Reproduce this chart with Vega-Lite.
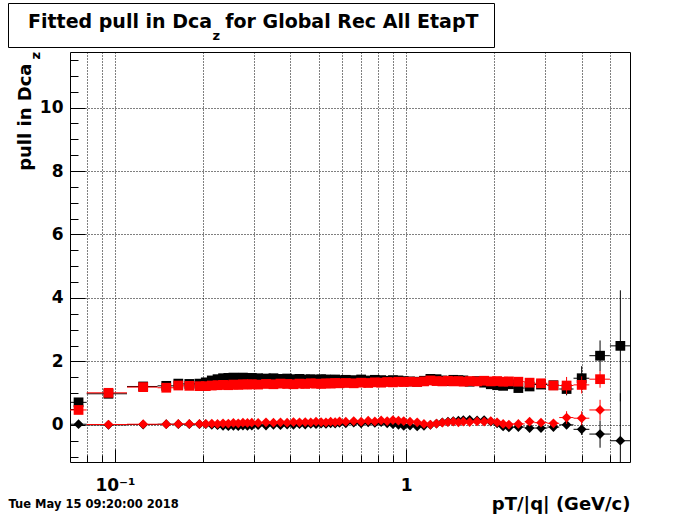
{
"$schema":"https://vega.github.io/schema/vega-lite/v6.json",
"width":560,"height":410,
"autosize":{"type":"none"},
"padding":{"left":70,"top":52,"right":70,"bottom":52},
"background":"white",
"config":{
"view":{"stroke":"black","strokeWidth":1},
"font":"DejaVu Sans",
"axis":{"labelFont":"DejaVu Sans","labelFontWeight":"bold","labelFontSize":17,"labelColor":"black","titleFont":"DejaVu Sans","titleFontWeight":"bold","titleColor":"black","tickColor":"black","tickWidth":1,"gridColor":"black","gridDash":[1,2],"gridOpacity":1,"gridWidth":1,"domain":false}
},
"resolve":{"axis":{"x":"independent","y":"independent"}},
"datasets":{"d":[
{"s":"bs","x":0.075,"x0":0.07,"x1":0.08,"y":0.71},
{"s":"bs","x":0.095,"x0":0.08,"x1":0.11,"y":0.98},
{"s":"bs","x":0.125,"x0":0.11,"x1":0.14,"y":1.21},
{"s":"bs","x":0.15,"x0":0.14,"x1":0.16,"y":1.23},
{"s":"bs","x":0.165,"x0":0.16,"x1":0.17,"y":1.30},
{"s":"bs","x":0.18,"x0":0.17,"x1":0.19,"y":1.29},
{"s":"bs","x":0.195,"x0":0.19,"x1":0.20,"y":1.30},
{"s":"bs","x":0.205,"x0":0.20,"x1":0.21,"y":1.34},
{"s":"bs","x":0.215,"x0":0.21,"x1":0.22,"y":1.40},
{"s":"bs","x":0.225,"x0":0.22,"x1":0.23,"y":1.44},
{"s":"bs","x":0.235,"x0":0.23,"x1":0.24,"y":1.47},
{"s":"bs","x":0.245,"x0":0.24,"x1":0.25,"y":1.48},
{"s":"bs","x":0.255,"x0":0.25,"x1":0.26,"y":1.49},
{"s":"bs","x":0.265,"x0":0.26,"x1":0.27,"y":1.48},
{"s":"bs","x":0.275,"x0":0.27,"x1":0.28,"y":1.49},
{"s":"bs","x":0.285,"x0":0.28,"x1":0.29,"y":1.47},
{"s":"bs","x":0.295,"x0":0.29,"x1":0.30,"y":1.48},
{"s":"bs","x":0.31,"x0":0.30,"x1":0.32,"y":1.47},
{"s":"bs","x":0.33,"x0":0.32,"x1":0.34,"y":1.46},
{"s":"bs","x":0.35,"x0":0.34,"x1":0.36,"y":1.47},
{"s":"bs","x":0.37,"x0":0.36,"x1":0.38,"y":1.45},
{"s":"bs","x":0.39,"x0":0.38,"x1":0.40,"y":1.46},
{"s":"bs","x":0.41,"x0":0.40,"x1":0.42,"y":1.44},
{"s":"bs","x":0.43,"x0":0.42,"x1":0.44,"y":1.45},
{"s":"bs","x":0.45,"x0":0.44,"x1":0.46,"y":1.43},
{"s":"bs","x":0.47,"x0":0.46,"x1":0.48,"y":1.44},
{"s":"bs","x":0.49,"x0":0.48,"x1":0.50,"y":1.42},
{"s":"bs","x":0.51,"x0":0.50,"x1":0.52,"y":1.44},
{"s":"bs","x":0.53,"x0":0.52,"x1":0.54,"y":1.43},
{"s":"bs","x":0.55,"x0":0.54,"x1":0.56,"y":1.42},
{"s":"bs","x":0.57,"x0":0.56,"x1":0.58,"y":1.43},
{"s":"bs","x":0.59,"x0":0.58,"x1":0.60,"y":1.41},
{"s":"bs","x":0.62,"x0":0.60,"x1":0.64,"y":1.42},
{"s":"bs","x":0.66,"x0":0.64,"x1":0.68,"y":1.41},
{"s":"bs","x":0.70,"x0":0.68,"x1":0.72,"y":1.43},
{"s":"bs","x":0.74,"x0":0.72,"x1":0.76,"y":1.40},
{"s":"bs","x":0.78,"x0":0.76,"x1":0.80,"y":1.42},
{"s":"bs","x":0.82,"x0":0.80,"x1":0.84,"y":1.41},
{"s":"bs","x":0.86,"x0":0.84,"x1":0.88,"y":1.39},
{"s":"bs","x":0.90,"x0":0.88,"x1":0.92,"y":1.41},
{"s":"bs","x":0.94,"x0":0.92,"x1":0.96,"y":1.40},
{"s":"bs","x":0.98,"x0":0.96,"x1":1.00,"y":1.38},
{"s":"bs","x":1.03,"x0":1.00,"x1":1.06,"y":1.37},
{"s":"bs","x":1.09,"x0":1.06,"x1":1.12,"y":1.36},
{"s":"bs","x":1.15,"x0":1.12,"x1":1.18,"y":1.39},
{"s":"bs","x":1.21,"x0":1.18,"x1":1.24,"y":1.45},
{"s":"bs","x":1.27,"x0":1.24,"x1":1.30,"y":1.44},
{"s":"bs","x":1.33,"x0":1.30,"x1":1.36,"y":1.40},
{"s":"bs","x":1.39,"x0":1.36,"x1":1.42,"y":1.38},
{"s":"bs","x":1.45,"x0":1.42,"x1":1.48,"y":1.42},
{"s":"bs","x":1.51,"x0":1.48,"x1":1.54,"y":1.41},
{"s":"bs","x":1.57,"x0":1.54,"x1":1.60,"y":1.40},
{"s":"bs","x":1.65,"x0":1.6,"x1":1.7,"y":1.36},
{"s":"bs","x":1.75,"x0":1.7,"x1":1.8,"y":1.38},
{"s":"bs","x":1.85,"x0":1.8,"x1":1.9,"y":1.33},
{"s":"bs","x":1.95,"x0":1.9,"x1":2.0,"y":1.28},
{"s":"bs","x":2.05,"x0":2.0,"x1":2.1,"y":1.25},
{"s":"bs","x":2.15,"x0":2.1,"x1":2.2,"y":1.23},
{"s":"bs","x":2.25,"x0":2.2,"x1":2.3,"y":1.28},
{"s":"bs","x":2.425,"x0":2.3,"x1":2.55,"y":1.16,"y0":1.12,"y1":1.20},
{"s":"bs","x":2.65,"x0":2.55,"x1":2.75,"y":1.21,"y0":1.16,"y1":1.26},
{"s":"bs","x":2.9,"x0":2.75,"x1":3.05,"y":1.27,"y0":1.20,"y1":1.34},
{"s":"bs","x":3.2,"x0":3.05,"x1":3.35,"y":1.25,"y0":1.15,"y1":1.35},
{"s":"bs","x":3.55,"x0":3.35,"x1":3.75,"y":1.13,"y0":0.93,"y1":1.33},
{"s":"bs","x":4.0,"x0":3.75,"x1":4.25,"y":1.47,"y0":1.09,"y1":1.85},
{"s":"bs","x":4.625,"x0":4.25,"x1":5.0,"y":2.18,"y0":1.70,"y1":2.66},
{"s":"bs","x":5.43,"x0":5.0,"x1":5.86,"y":2.49,"y0":0.74,"y1":4.24},
{"s":"bd","x":0.075,"x0":0.07,"x1":0.08,"y":0.02},
{"s":"bd","x":0.095,"x0":0.08,"x1":0.11,"y":0.00},
{"s":"bd","x":0.125,"x0":0.11,"x1":0.14,"y":0.01},
{"s":"bd","x":0.15,"x0":0.14,"x1":0.16,"y":0.02},
{"s":"bd","x":0.165,"x0":0.16,"x1":0.17,"y":0.02},
{"s":"bd","x":0.18,"x0":0.17,"x1":0.19,"y":0.02},
{"s":"bd","x":0.195,"x0":0.19,"x1":0.20,"y":0.02},
{"s":"bd","x":0.205,"x0":0.20,"x1":0.21,"y":0.02},
{"s":"bd","x":0.215,"x0":0.21,"x1":0.22,"y":0.00},
{"s":"bd","x":0.225,"x0":0.22,"x1":0.23,"y":-0.01},
{"s":"bd","x":0.235,"x0":0.23,"x1":0.24,"y":-0.03},
{"s":"bd","x":0.245,"x0":0.24,"x1":0.25,"y":-0.04},
{"s":"bd","x":0.255,"x0":0.25,"x1":0.26,"y":-0.03},
{"s":"bd","x":0.265,"x0":0.26,"x1":0.27,"y":-0.04},
{"s":"bd","x":0.275,"x0":0.27,"x1":0.28,"y":-0.02},
{"s":"bd","x":0.285,"x0":0.28,"x1":0.29,"y":-0.03},
{"s":"bd","x":0.295,"x0":0.29,"x1":0.30,"y":-0.02},
{"s":"bd","x":0.31,"x0":0.30,"x1":0.32,"y":-0.01},
{"s":"bd","x":0.33,"x0":0.32,"x1":0.34,"y":-0.02},
{"s":"bd","x":0.35,"x0":0.34,"x1":0.36,"y":0.00},
{"s":"bd","x":0.37,"x0":0.36,"x1":0.38,"y":-0.01},
{"s":"bd","x":0.39,"x0":0.38,"x1":0.40,"y":0.01},
{"s":"bd","x":0.41,"x0":0.40,"x1":0.42,"y":0.00},
{"s":"bd","x":0.43,"x0":0.42,"x1":0.44,"y":0.02},
{"s":"bd","x":0.45,"x0":0.44,"x1":0.46,"y":0.01},
{"s":"bd","x":0.47,"x0":0.46,"x1":0.48,"y":0.03},
{"s":"bd","x":0.49,"x0":0.48,"x1":0.50,"y":0.02},
{"s":"bd","x":0.51,"x0":0.50,"x1":0.52,"y":0.04},
{"s":"bd","x":0.53,"x0":0.52,"x1":0.54,"y":0.03},
{"s":"bd","x":0.55,"x0":0.54,"x1":0.56,"y":0.05},
{"s":"bd","x":0.57,"x0":0.56,"x1":0.58,"y":0.04},
{"s":"bd","x":0.59,"x0":0.58,"x1":0.60,"y":0.06},
{"s":"bd","x":0.62,"x0":0.60,"x1":0.64,"y":0.05},
{"s":"bd","x":0.66,"x0":0.64,"x1":0.68,"y":0.07},
{"s":"bd","x":0.70,"x0":0.68,"x1":0.72,"y":0.05},
{"s":"bd","x":0.74,"x0":0.72,"x1":0.76,"y":0.08},
{"s":"bd","x":0.78,"x0":0.76,"x1":0.80,"y":0.06},
{"s":"bd","x":0.82,"x0":0.80,"x1":0.84,"y":0.09},
{"s":"bd","x":0.86,"x0":0.84,"x1":0.88,"y":0.05},
{"s":"bd","x":0.90,"x0":0.88,"x1":0.92,"y":0.02},
{"s":"bd","x":0.94,"x0":0.92,"x1":0.96,"y":0.00},
{"s":"bd","x":0.98,"x0":0.96,"x1":1.00,"y":-0.03},
{"s":"bd","x":1.03,"x0":1.00,"x1":1.06,"y":-0.02},
{"s":"bd","x":1.09,"x0":1.06,"x1":1.12,"y":-0.05},
{"s":"bd","x":1.15,"x0":1.12,"x1":1.18,"y":-0.03},
{"s":"bd","x":1.21,"x0":1.18,"x1":1.24,"y":0.00},
{"s":"bd","x":1.27,"x0":1.24,"x1":1.30,"y":0.04},
{"s":"bd","x":1.33,"x0":1.30,"x1":1.36,"y":0.08},
{"s":"bd","x":1.39,"x0":1.36,"x1":1.42,"y":0.10},
{"s":"bd","x":1.45,"x0":1.42,"x1":1.48,"y":0.12},
{"s":"bd","x":1.51,"x0":1.48,"x1":1.54,"y":0.13},
{"s":"bd","x":1.57,"x0":1.54,"x1":1.60,"y":0.15},
{"s":"bd","x":1.65,"x0":1.6,"x1":1.7,"y":0.16},
{"s":"bd","x":1.75,"x0":1.7,"x1":1.8,"y":0.14},
{"s":"bd","x":1.85,"x0":1.8,"x1":1.9,"y":0.15},
{"s":"bd","x":1.95,"x0":1.9,"x1":2.0,"y":0.10},
{"s":"bd","x":2.05,"x0":2.0,"x1":2.1,"y":0.05},
{"s":"bd","x":2.15,"x0":2.1,"x1":2.2,"y":-0.05},
{"s":"bd","x":2.25,"x0":2.2,"x1":2.3,"y":-0.08},
{"s":"bd","x":2.425,"x0":2.3,"x1":2.55,"y":-0.07,"y0":-0.11,"y1":-0.03},
{"s":"bd","x":2.65,"x0":2.55,"x1":2.75,"y":-0.10,"y0":-0.15,"y1":-0.05},
{"s":"bd","x":2.9,"x0":2.75,"x1":3.05,"y":-0.10,"y0":-0.16,"y1":-0.04},
{"s":"bd","x":3.2,"x0":3.05,"x1":3.35,"y":-0.07,"y0":-0.15,"y1":0.01},
{"s":"bd","x":3.55,"x0":3.35,"x1":3.75,"y":0.00,"y0":-0.10,"y1":0.10},
{"s":"bd","x":4.0,"x0":3.75,"x1":4.25,"y":-0.14,"y0":-0.32,"y1":0.04},
{"s":"bd","x":4.625,"x0":4.25,"x1":5.0,"y":-0.29,"y0":-0.72,"y1":0.14},
{"s":"bd","x":5.43,"x0":5.0,"x1":5.86,"y":-0.50,"y0":-2.0,"y1":1.0},
{"s":"rs","x":0.075,"x0":0.07,"x1":0.08,"y":0.47},
{"s":"rs","x":0.095,"x0":0.08,"x1":0.11,"y":1.01},
{"s":"rs","x":0.125,"x0":0.11,"x1":0.14,"y":1.19},
{"s":"rs","x":0.15,"x0":0.14,"x1":0.16,"y":1.17},
{"s":"rs","x":0.165,"x0":0.16,"x1":0.17,"y":1.24},
{"s":"rs","x":0.18,"x0":0.17,"x1":0.19,"y":1.23},
{"s":"rs","x":0.195,"x0":0.19,"x1":0.20,"y":1.22},
{"s":"rs","x":0.205,"x0":0.20,"x1":0.21,"y":1.22},
{"s":"rs","x":0.215,"x0":0.21,"x1":0.22,"y":1.24},
{"s":"rs","x":0.225,"x0":0.22,"x1":0.23,"y":1.25},
{"s":"rs","x":0.235,"x0":0.23,"x1":0.24,"y":1.26},
{"s":"rs","x":0.245,"x0":0.24,"x1":0.25,"y":1.25},
{"s":"rs","x":0.255,"x0":0.25,"x1":0.26,"y":1.27},
{"s":"rs","x":0.265,"x0":0.26,"x1":0.27,"y":1.26},
{"s":"rs","x":0.275,"x0":0.27,"x1":0.28,"y":1.28},
{"s":"rs","x":0.285,"x0":0.28,"x1":0.29,"y":1.27},
{"s":"rs","x":0.295,"x0":0.29,"x1":0.30,"y":1.28},
{"s":"rs","x":0.31,"x0":0.30,"x1":0.32,"y":1.27},
{"s":"rs","x":0.33,"x0":0.32,"x1":0.34,"y":1.29},
{"s":"rs","x":0.35,"x0":0.34,"x1":0.36,"y":1.28},
{"s":"rs","x":0.37,"x0":0.36,"x1":0.38,"y":1.30},
{"s":"rs","x":0.39,"x0":0.38,"x1":0.40,"y":1.29},
{"s":"rs","x":0.41,"x0":0.40,"x1":0.42,"y":1.28},
{"s":"rs","x":0.43,"x0":0.42,"x1":0.44,"y":1.30},
{"s":"rs","x":0.45,"x0":0.44,"x1":0.46,"y":1.29},
{"s":"rs","x":0.47,"x0":0.46,"x1":0.48,"y":1.31},
{"s":"rs","x":0.49,"x0":0.48,"x1":0.50,"y":1.30},
{"s":"rs","x":0.51,"x0":0.50,"x1":0.52,"y":1.29},
{"s":"rs","x":0.53,"x0":0.52,"x1":0.54,"y":1.31},
{"s":"rs","x":0.55,"x0":0.54,"x1":0.56,"y":1.30},
{"s":"rs","x":0.57,"x0":0.56,"x1":0.58,"y":1.32},
{"s":"rs","x":0.59,"x0":0.58,"x1":0.60,"y":1.31},
{"s":"rs","x":0.62,"x0":0.60,"x1":0.64,"y":1.32},
{"s":"rs","x":0.66,"x0":0.64,"x1":0.68,"y":1.31},
{"s":"rs","x":0.70,"x0":0.68,"x1":0.72,"y":1.33},
{"s":"rs","x":0.74,"x0":0.72,"x1":0.76,"y":1.32},
{"s":"rs","x":0.78,"x0":0.76,"x1":0.80,"y":1.34},
{"s":"rs","x":0.82,"x0":0.80,"x1":0.84,"y":1.33},
{"s":"rs","x":0.86,"x0":0.84,"x1":0.88,"y":1.35},
{"s":"rs","x":0.90,"x0":0.88,"x1":0.92,"y":1.34},
{"s":"rs","x":0.94,"x0":0.92,"x1":0.96,"y":1.36},
{"s":"rs","x":0.98,"x0":0.96,"x1":1.00,"y":1.35},
{"s":"rs","x":1.03,"x0":1.00,"x1":1.06,"y":1.36},
{"s":"rs","x":1.09,"x0":1.06,"x1":1.12,"y":1.35},
{"s":"rs","x":1.15,"x0":1.12,"x1":1.18,"y":1.37},
{"s":"rs","x":1.21,"x0":1.18,"x1":1.24,"y":1.40},
{"s":"rs","x":1.27,"x0":1.24,"x1":1.30,"y":1.38},
{"s":"rs","x":1.33,"x0":1.30,"x1":1.36,"y":1.37},
{"s":"rs","x":1.39,"x0":1.36,"x1":1.42,"y":1.39},
{"s":"rs","x":1.45,"x0":1.42,"x1":1.48,"y":1.37},
{"s":"rs","x":1.51,"x0":1.48,"x1":1.54,"y":1.38},
{"s":"rs","x":1.57,"x0":1.54,"x1":1.60,"y":1.36},
{"s":"rs","x":1.65,"x0":1.6,"x1":1.7,"y":1.38},
{"s":"rs","x":1.75,"x0":1.7,"x1":1.8,"y":1.37},
{"s":"rs","x":1.85,"x0":1.8,"x1":1.9,"y":1.39},
{"s":"rs","x":1.95,"x0":1.9,"x1":2.0,"y":1.37},
{"s":"rs","x":2.05,"x0":2.0,"x1":2.1,"y":1.38},
{"s":"rs","x":2.15,"x0":2.1,"x1":2.2,"y":1.36},
{"s":"rs","x":2.25,"x0":2.2,"x1":2.3,"y":1.37},
{"s":"rs","x":2.425,"x0":2.3,"x1":2.55,"y":1.36,"y0":1.32,"y1":1.40},
{"s":"rs","x":2.65,"x0":2.55,"x1":2.75,"y":1.33,"y0":1.28,"y1":1.38},
{"s":"rs","x":2.9,"x0":2.75,"x1":3.05,"y":1.31,"y0":1.24,"y1":1.38},
{"s":"rs","x":3.2,"x0":3.05,"x1":3.35,"y":1.24,"y0":1.14,"y1":1.34},
{"s":"rs","x":3.55,"x0":3.35,"x1":3.75,"y":1.24,"y0":0.97,"y1":1.51},
{"s":"rs","x":4.0,"x0":3.75,"x1":4.25,"y":1.26,"y0":0.99,"y1":1.53},
{"s":"rs","x":4.625,"x0":4.25,"x1":5.0,"y":1.44,"y0":1.17,"y1":1.71},
{"s":"rd","x":0.095,"x0":0.08,"x1":0.11,"y":0.01},
{"s":"rd","x":0.125,"x0":0.11,"x1":0.14,"y":0.02},
{"s":"rd","x":0.15,"x0":0.14,"x1":0.16,"y":0.02},
{"s":"rd","x":0.165,"x0":0.16,"x1":0.17,"y":0.03},
{"s":"rd","x":0.18,"x0":0.17,"x1":0.19,"y":0.03},
{"s":"rd","x":0.195,"x0":0.19,"x1":0.20,"y":0.03},
{"s":"rd","x":0.205,"x0":0.20,"x1":0.21,"y":0.03},
{"s":"rd","x":0.215,"x0":0.21,"x1":0.22,"y":0.04},
{"s":"rd","x":0.225,"x0":0.22,"x1":0.23,"y":0.03},
{"s":"rd","x":0.235,"x0":0.23,"x1":0.24,"y":0.05},
{"s":"rd","x":0.245,"x0":0.24,"x1":0.25,"y":0.04},
{"s":"rd","x":0.255,"x0":0.25,"x1":0.26,"y":0.06},
{"s":"rd","x":0.265,"x0":0.26,"x1":0.27,"y":0.05},
{"s":"rd","x":0.275,"x0":0.27,"x1":0.28,"y":0.07},
{"s":"rd","x":0.285,"x0":0.28,"x1":0.29,"y":0.06},
{"s":"rd","x":0.295,"x0":0.29,"x1":0.30,"y":0.07},
{"s":"rd","x":0.31,"x0":0.30,"x1":0.32,"y":0.06},
{"s":"rd","x":0.33,"x0":0.32,"x1":0.34,"y":0.08},
{"s":"rd","x":0.35,"x0":0.34,"x1":0.36,"y":0.07},
{"s":"rd","x":0.37,"x0":0.36,"x1":0.38,"y":0.08},
{"s":"rd","x":0.39,"x0":0.38,"x1":0.40,"y":0.07},
{"s":"rd","x":0.41,"x0":0.40,"x1":0.42,"y":0.09},
{"s":"rd","x":0.43,"x0":0.42,"x1":0.44,"y":0.08},
{"s":"rd","x":0.45,"x0":0.44,"x1":0.46,"y":0.09},
{"s":"rd","x":0.47,"x0":0.46,"x1":0.48,"y":0.08},
{"s":"rd","x":0.49,"x0":0.48,"x1":0.50,"y":0.10},
{"s":"rd","x":0.51,"x0":0.50,"x1":0.52,"y":0.09},
{"s":"rd","x":0.53,"x0":0.52,"x1":0.54,"y":0.08},
{"s":"rd","x":0.55,"x0":0.54,"x1":0.56,"y":0.10},
{"s":"rd","x":0.57,"x0":0.56,"x1":0.58,"y":0.09},
{"s":"rd","x":0.59,"x0":0.58,"x1":0.60,"y":0.11},
{"s":"rd","x":0.62,"x0":0.60,"x1":0.64,"y":0.10},
{"s":"rd","x":0.66,"x0":0.64,"x1":0.68,"y":0.12},
{"s":"rd","x":0.70,"x0":0.68,"x1":0.72,"y":0.10},
{"s":"rd","x":0.74,"x0":0.72,"x1":0.76,"y":0.13},
{"s":"rd","x":0.78,"x0":0.76,"x1":0.80,"y":0.11},
{"s":"rd","x":0.82,"x0":0.80,"x1":0.84,"y":0.14},
{"s":"rd","x":0.86,"x0":0.84,"x1":0.88,"y":0.12},
{"s":"rd","x":0.90,"x0":0.88,"x1":0.92,"y":0.15},
{"s":"rd","x":0.94,"x0":0.92,"x1":0.96,"y":0.13},
{"s":"rd","x":0.98,"x0":0.96,"x1":1.00,"y":0.12},
{"s":"rd","x":1.03,"x0":1.00,"x1":1.06,"y":0.10},
{"s":"rd","x":1.09,"x0":1.06,"x1":1.12,"y":0.08},
{"s":"rd","x":1.15,"x0":1.12,"x1":1.18,"y":0.03},
{"s":"rd","x":1.21,"x0":1.18,"x1":1.24,"y":0.01},
{"s":"rd","x":1.27,"x0":1.24,"x1":1.30,"y":0.04},
{"s":"rd","x":1.33,"x0":1.30,"x1":1.36,"y":0.07},
{"s":"rd","x":1.39,"x0":1.36,"x1":1.42,"y":0.09},
{"s":"rd","x":1.45,"x0":1.42,"x1":1.48,"y":0.10},
{"s":"rd","x":1.51,"x0":1.48,"x1":1.54,"y":0.08},
{"s":"rd","x":1.57,"x0":1.54,"x1":1.60,"y":0.10},
{"s":"rd","x":1.65,"x0":1.6,"x1":1.7,"y":0.09},
{"s":"rd","x":1.75,"x0":1.7,"x1":1.8,"y":0.11},
{"s":"rd","x":1.85,"x0":1.8,"x1":1.9,"y":0.10},
{"s":"rd","x":1.95,"x0":1.9,"x1":2.0,"y":0.12},
{"s":"rd","x":2.05,"x0":2.0,"x1":2.1,"y":0.08},
{"s":"rd","x":2.15,"x0":2.1,"x1":2.2,"y":0.03},
{"s":"rd","x":2.25,"x0":2.2,"x1":2.3,"y":0.01},
{"s":"rd","x":2.425,"x0":2.3,"x1":2.55,"y":0.03,"y0":-0.01,"y1":0.07},
{"s":"rd","x":2.65,"x0":2.55,"x1":2.75,"y":0.10,"y0":0.05,"y1":0.15},
{"s":"rd","x":2.9,"x0":2.75,"x1":3.05,"y":0.07,"y0":0.01,"y1":0.13},
{"s":"rd","x":3.2,"x0":3.05,"x1":3.35,"y":0.05,"y0":-0.03,"y1":0.13},
{"s":"rd","x":3.55,"x0":3.35,"x1":3.75,"y":0.23,"y0":0.03,"y1":0.43},
{"s":"rd","x":4.0,"x0":3.75,"x1":4.25,"y":0.21,"y0":-0.01,"y1":0.43},
{"s":"rd","x":4.625,"x0":4.25,"x1":5.0,"y":0.47,"y0":0.15,"y1":0.79}
]},
"data":{"name":"d"},
"layer":[
{"transform":[{"filter":"datum.s[0]=='b'"}],
 "mark":{"type":"rule","color":"black","strokeWidth":1,"clip":true},
 "encoding":{
  "x":{"field":"x0","type":"quantitative","scale":{"type":"log","domain":[0.0701,5.86],"nice":false},
   "axis":{"orient":"bottom","values":[0.08,0.09,0.1,0.2,0.3,0.4,0.5,0.6,0.7,0.8,0.9,1,2,3,4,5],"grid":true,"ticks":false,"domain":false,"labelExpr":"datum.value==0.1?'10⁻¹':(datum.value==1?'1':'')","labelOverlap":false,"labelFlush":false,"labelPadding":15,"labelBaseline":"top","title":"pT/|q| (GeV/c)","titleFontSize":18,"titleX":560,"titleY":47,"titleAlign":"right","titleBaseline":"alphabetic"}},
  "x2":{"field":"x1"},
  "y":{"field":"y","type":"quantitative","scale":{"domain":[-1.17,11.75],"nice":false,"zero":false},
   "axis":{"orient":"left","values":[0,2,4,6,8,10],"grid":true,"ticks":false,"domain":false,"labelPadding":7,"title":"pull in Dca","titleFontSize":18,"titleAngle":270,"titleX":-40,"titleY":11,"titleAlign":"right","titleBaseline":"alphabetic"}}}},
{"transform":[{"filter":"datum.s[0]=='b' && isValid(datum.y0)"}],
 "mark":{"type":"rule","color":"black","strokeWidth":1,"clip":true},
 "encoding":{
  "x":{"field":"x","type":"quantitative","scale":{"type":"log","domain":[0.0701,5.86],"nice":false},
   "axis":{"orient":"bottom","values":[0.08,0.09,0.2,0.3,0.4,0.5,0.6,0.7,0.8,0.9,2,3,4,5],"grid":false,"labels":false,"ticks":true,"tickSize":-7,"domain":false,"title":null}},
  "y":{"field":"y0","type":"quantitative","scale":{"domain":[-1.17,11.75],"nice":false,"zero":false},
   "axis":{"orient":"left","values":[0,2,4,6,8,10],"grid":false,"labels":false,"ticks":true,"tickSize":-15,"domain":false,"title":"z","titleFontSize":13,"titleAngle":270,"titleX":-31,"titleY":-0.5,"titleAlign":"right","titleBaseline":"alphabetic"}},
  "y2":{"field":"y1"}}},
{"transform":[{"filter":"datum.s[0]=='b'"}],
 "mark":{"type":"point","filled":true,"opacity":1,"size":95,"color":"black","clip":true},
 "encoding":{
  "x":{"field":"x","type":"quantitative","scale":{"type":"log","domain":[0.0701,5.86],"nice":false},
   "axis":{"orient":"bottom","values":[0.1,1],"grid":false,"labels":false,"ticks":true,"tickSize":-13,"domain":false,"title":null}},
  "y":{"field":"y","type":"quantitative","scale":{"domain":[-1.17,11.75],"nice":false,"zero":false},
   "axis":{"orient":"left","values":[-1,-0.5,0.5,1,1.5,2.5,3,3.5,4.5,5,5.5,6.5,7,7.5,8.5,9,9.5,10.5,11,11.5],"grid":false,"labels":false,"ticks":true,"tickSize":-8,"domain":false,"title":null}},
  "shape":{"field":"s","type":"nominal","scale":{"domain":["bs","bd","rs","rd"],"range":["square","diamond","square","diamond"]},"legend":null}}},
{"transform":[{"filter":"datum.s[0]=='r'"}],
 "mark":{"type":"rule","color":"#ff0000","strokeWidth":1,"clip":true},
 "encoding":{
  "x":{"field":"x0","type":"quantitative","scale":{"type":"log","domain":[0.0701,5.86],"nice":false},
   "axis":{"orient":"bottom","labels":false,"ticks":false,"grid":false,"domain":false,"title":"Tue May 15 09:20:00 2018","titleFontSize":11.5,"titleX":-62,"titleY":45,"titleAlign":"left","titleBaseline":"alphabetic"}},
  "x2":{"field":"x1"},
  "y":{"field":"y","type":"quantitative","scale":{"domain":[-1.17,11.75],"nice":false,"zero":false},"axis":null}}},
{"transform":[{"filter":"datum.s[0]=='r' && isValid(datum.y0)"}],
 "mark":{"type":"rule","color":"#ff0000","strokeWidth":1,"clip":true},
 "encoding":{
  "x":{"field":"x","type":"quantitative","scale":{"type":"log","domain":[0.0701,5.86],"nice":false},
   "axis":{"orient":"top","labels":false,"ticks":false,"grid":false,"domain":false,"title":"z","titleFontSize":13,"titleX":142,"titleY":-13,"titleAlign":"left","titleBaseline":"alphabetic"}},
  "y":{"field":"y0","type":"quantitative","scale":{"domain":[-1.17,11.75],"nice":false,"zero":false},"axis":null},
  "y2":{"field":"y1"}}},
{"transform":[{"filter":"datum.s[0]=='r'"}],
 "mark":{"type":"point","filled":true,"opacity":1,"size":95,"color":"#ff0000","clip":true},
 "encoding":{
  "x":{"field":"x","type":"quantitative","scale":{"type":"log","domain":[0.0701,5.86],"nice":false},"axis":null},
  "y":{"field":"y","type":"quantitative","scale":{"domain":[-1.17,11.75],"nice":false,"zero":false},"axis":null},
  "shape":{"field":"s","type":"nominal","scale":{"domain":["bs","bd","rs","rd"],"range":["square","diamond","square","diamond"]},"legend":null}}},
{"data":{"values":[{"t":"Fitted pull in Dca for Global Rec All EtapT"}]},
 "mark":{"type":"text","text":""},
 "encoding":{
  "color":{"field":"t","type":"nominal","scale":{"range":["black"]},
   "legend":{"orient":"none","legendX":-62,"legendY":-49,"title":null,"strokeColor":"black","padding":15,"symbolSize":0,"symbolStrokeWidth":0,"symbolOpacity":0,"labelFont":"DejaVu Sans","labelFontWeight":"bold","labelFontSize":19,"labelColor":"black","labelLimit":1000,"labelOffset":-14,"labelBaseline":"alphabetic","labelExpr":"replace(datum.label,'Dca ','Dca\u00a0 ')"}}}}
]
}
